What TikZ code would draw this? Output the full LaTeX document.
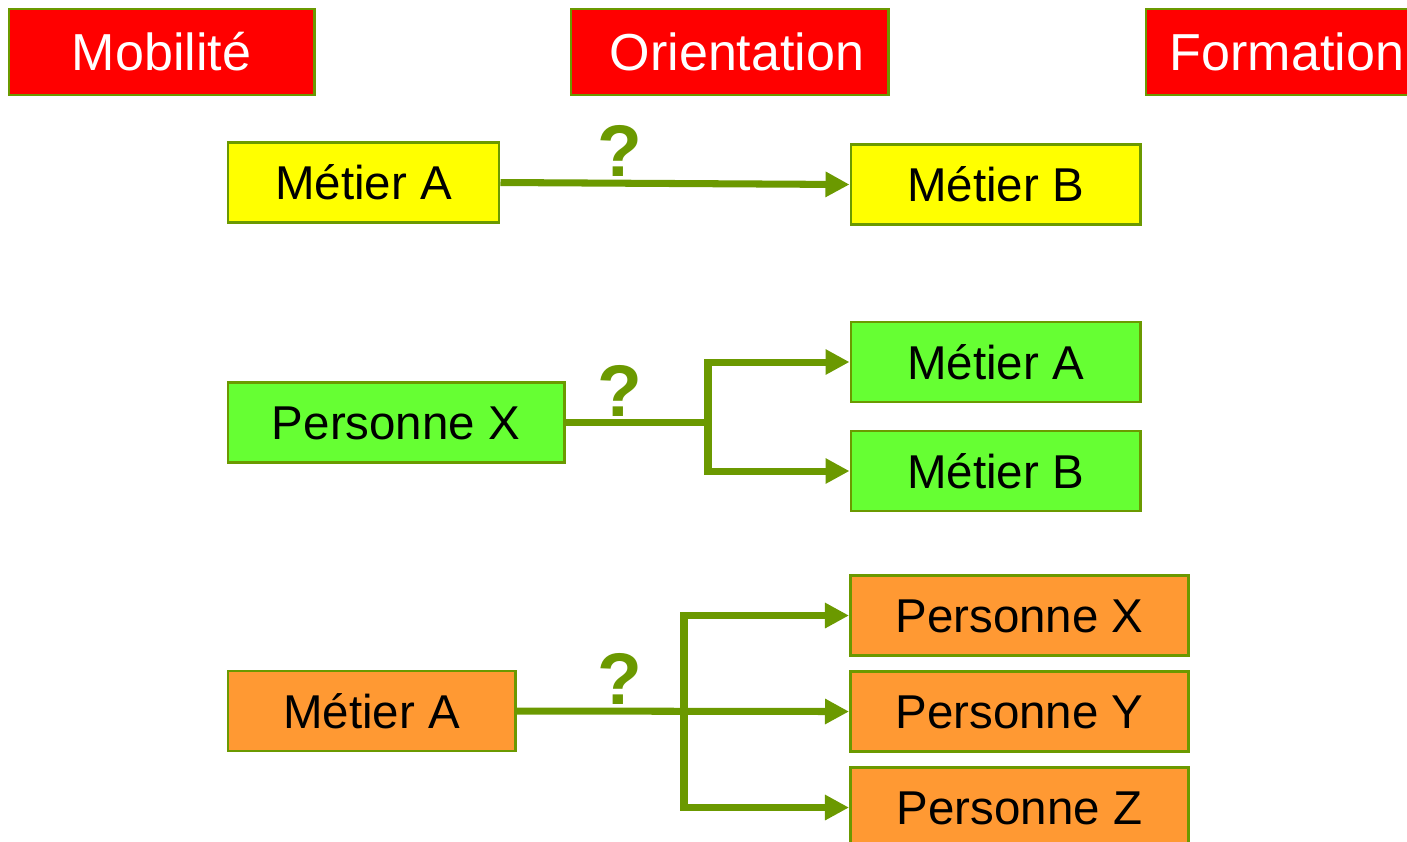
\documentclass[tikz,border=0pt]{standalone}
\usepackage{fontspec}
\setmainfont{Liberation Sans}
\usetikzlibrary{arrows.meta}
\definecolor{leaf}{HTML}{6B9900}
\definecolor{hdred}{HTML}{FF0000}
\definecolor{jobyellow}{HTML}{FFFF00}
\definecolor{jobgreen}{HTML}{66FF33}
\definecolor{joborange}{HTML}{FF9933}

\begin{document}
\begin{tikzpicture}[
  x=0.01cm, y=-0.01cm,
  >={Triangle[length=0.24cm, width=0.24cm]},
  titlebox/.style={draw=leaf, line width=0.8pt, fill=hdred, text=white, inner sep=0pt,
    minimum height=0.86cm, font=\fontsize{14.8}{17}\selectfont, text height=10.6pt, text depth=0pt},
  jobbox/.style={draw=leaf, line width=0.8pt, inner sep=0pt,
    minimum height=0.8cm, font=\fontsize{13.5}{16}\selectfont, text height=9.7pt, text depth=0pt},
  qmark/.style={text=leaf, inner sep=0pt, font=\fontsize{20.8}{24}\bfseries\selectfont,
    text height=15.2pt, text depth=0pt},
  link/.style={draw=leaf, line width=2pt}
]
\useasboundingbox (0,0) rectangle (1407,841);
\clip (0,0) rectangle (1407,841);

% Headings
\node[titlebox, minimum width=3.05cm] (mob) at (161.5,52) {Mobilité};
\node[titlebox, minimum width=3.17cm] (orient) at (729.5,52) {\hspace{0.15cm}Orientation};
\node[titlebox, minimum width=2.82cm] (form) at (1287,52) {Formation};

% Row 1 -- yellow
\node[jobbox, fill=jobyellow, minimum width=2.71cm] (metA) at (363.5,182.5) {Métier A};
\node[jobbox, fill=jobyellow, minimum width=2.89cm] (metB) at (995.5,184.5) {Métier B};
\draw[link, ->] (metA.east) -- (metB.west);
\node[qmark] (q1) at (620,150) {?};

% Row 2 -- green
\node[jobbox, fill=jobgreen, minimum width=3.36cm] (persX) at (396,422.5) {Personne X};
\node[jobbox, fill=jobgreen, minimum width=2.89cm] (metA2) at (995.5,362) {Métier A};
\node[jobbox, fill=jobgreen, minimum width=2.89cm] (metB2) at (995.5,471) {Métier B};
\coordinate (fork2) at (708,422.5);
\draw[link] (persX.east) -- (fork2);
\draw[link, ->] (fork2) |- (metA2.west);
\draw[link, ->] (fork2) |- (metB2.west);
\node[qmark] (q2) at (620,390) {?};

% Row 3 -- orange
\node[jobbox, fill=joborange, minimum width=2.87cm] (metA3) at (371.5,711) {Métier A};
\node[jobbox, fill=joborange, minimum width=3.38cm] (persX3) at (1019.5,615.5) {Personne X};
\node[jobbox, fill=joborange, minimum width=3.38cm] (persY3) at (1019.5,711.5) {Personne Y};
\node[jobbox, fill=joborange, minimum width=3.38cm] (persZ3) at (1019.5,807.5) {Personne Z};
\coordinate (fork3) at (684,711);
\draw[link, ->] (metA3.east) -- (persY3.west);
\draw[link, ->] (fork3) |- (persX3.west);
\draw[link, ->] (fork3) |- (persZ3.west);
\node[qmark] (q3) at (620,678) {?};

\end{tikzpicture}
\end{document}
